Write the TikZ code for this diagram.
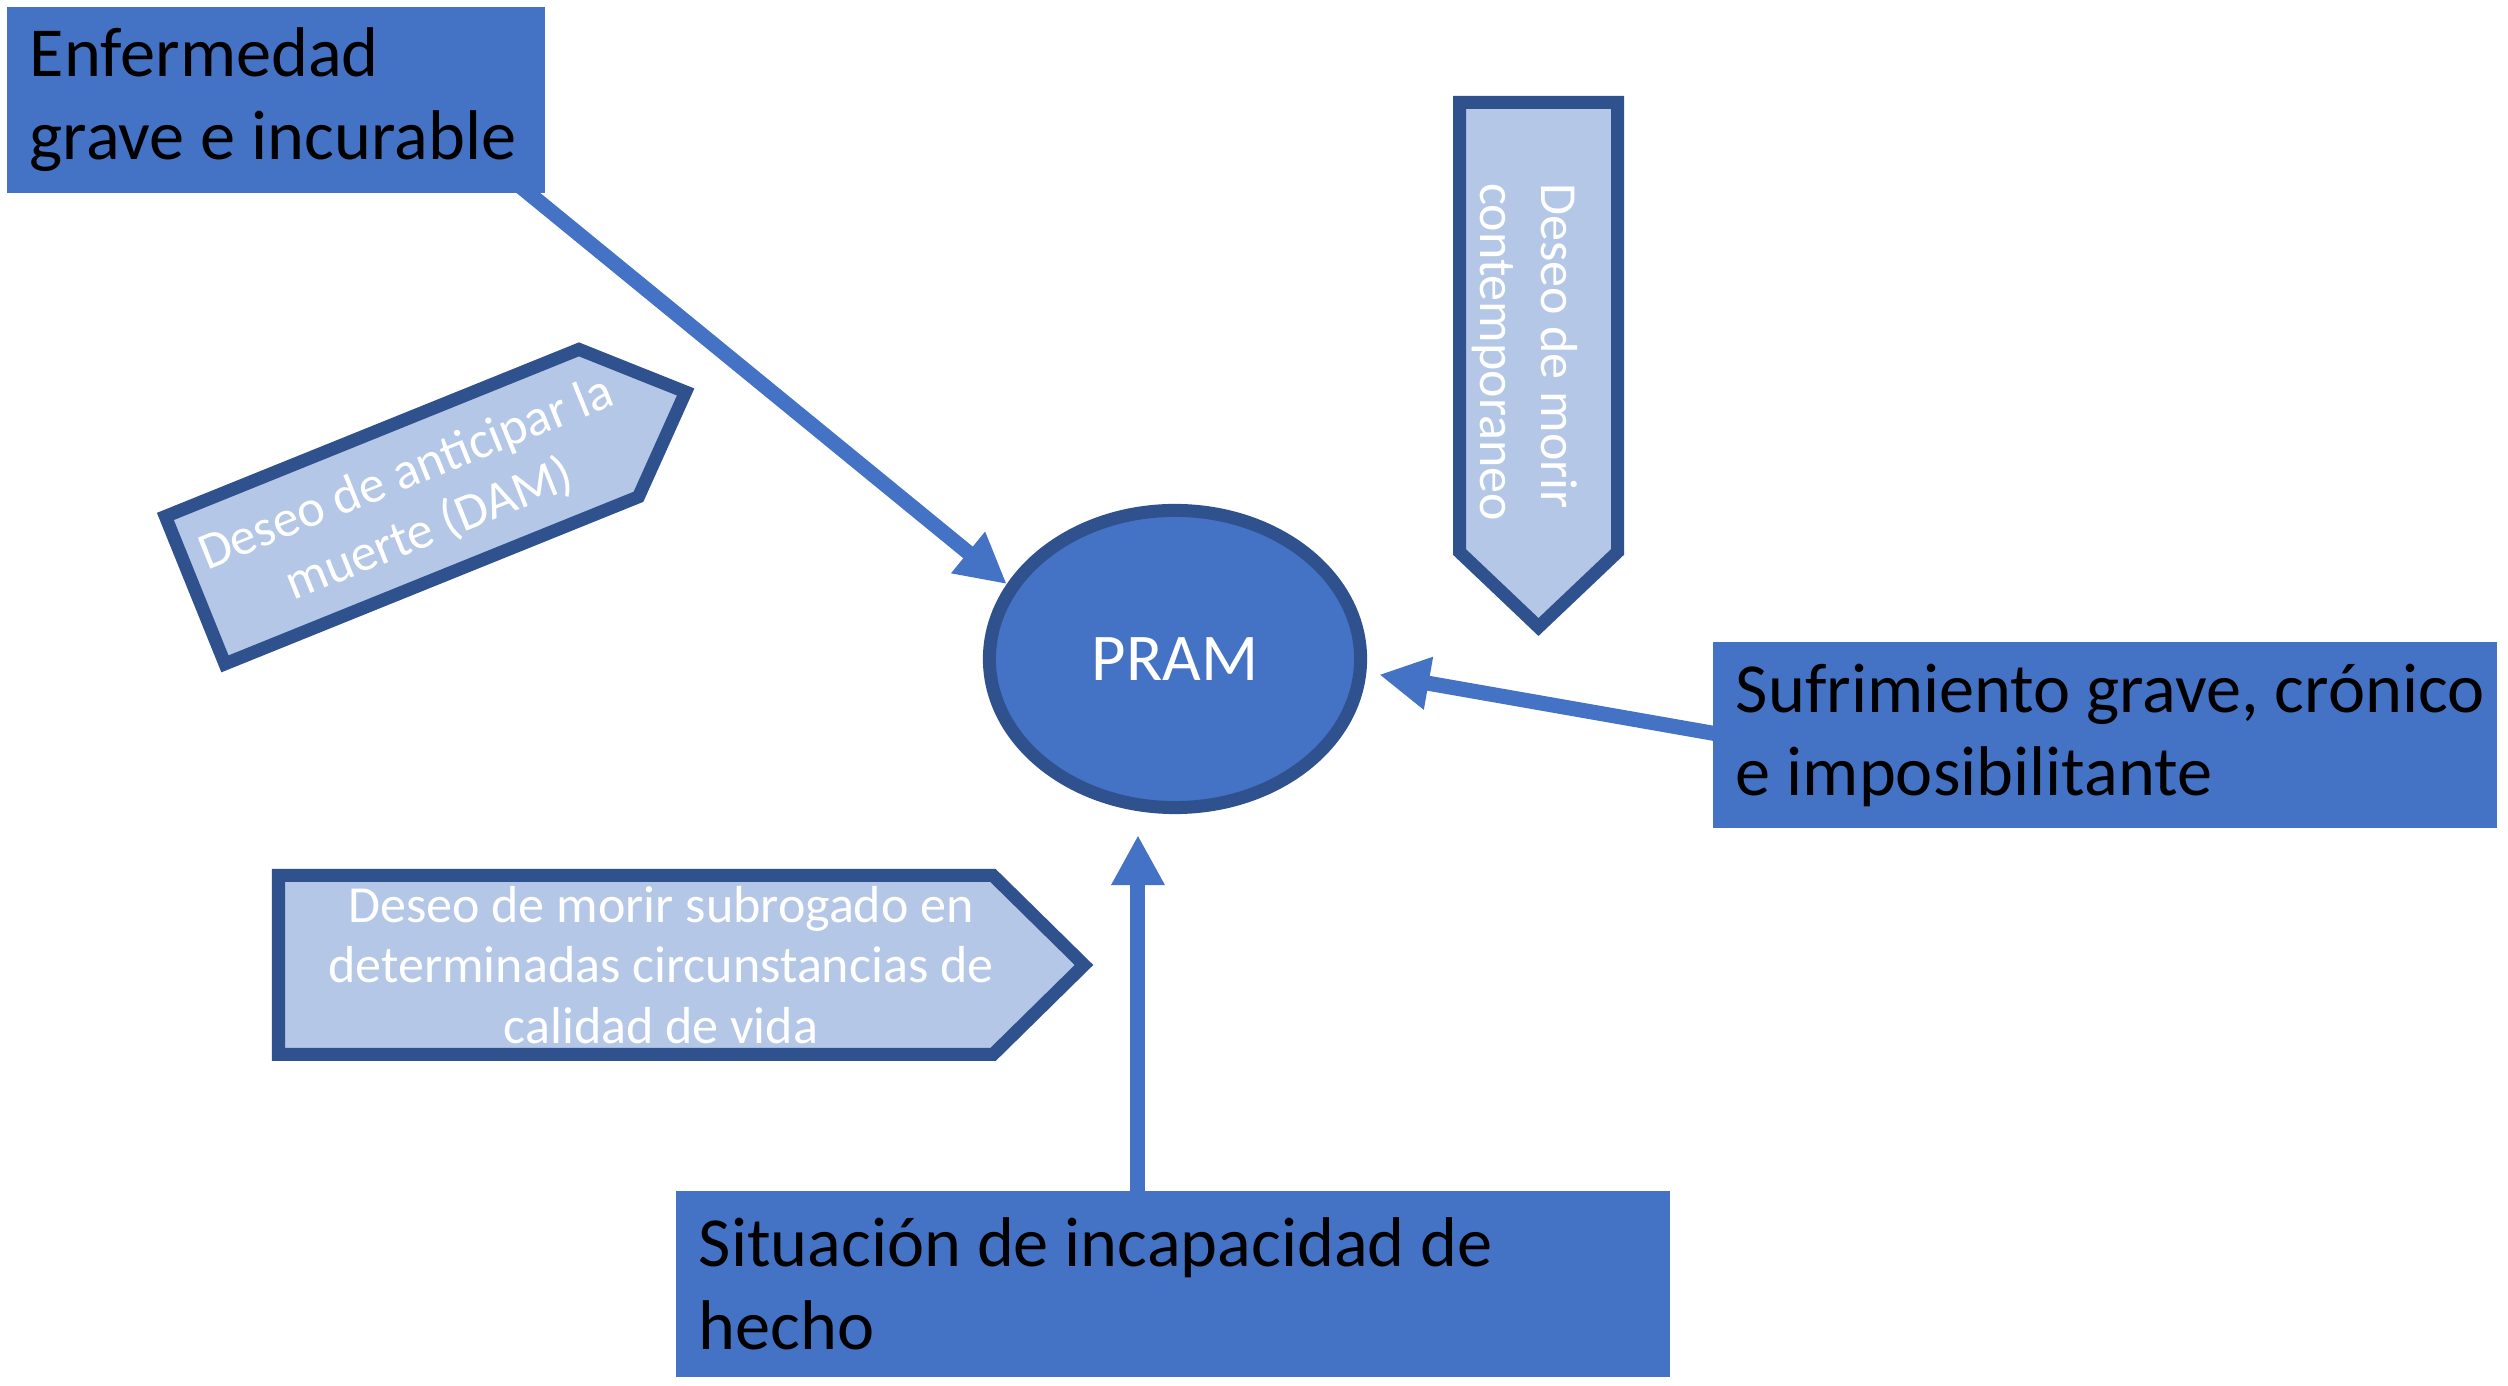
\documentclass[tikz,border=0pt]{standalone}
\usepackage{fontspec}
\setmainfont{Carlito}
\usetikzlibrary{arrows.meta,shapes.geometric}
\definecolor{mainblue}{HTML}{4472C4}
\definecolor{darkblue}{HTML}{2F528F}
\definecolor{lightblue}{HTML}{B4C7E7}
\pgfdeclarelayer{bg}
\pgfsetlayers{bg,main}
\begin{document}
\begin{tikzpicture}[x=0.01cm,y=-0.01cm,
  bigbox/.style={rectangle, fill=mainblue, draw=mainblue, minimum height=1.84cm,
    inner xsep=0.22cm, inner ysep=0pt, align=flush left,
    font=\fontsize{20pt}{23.6pt}\selectfont, text=black},
  lighttext/.style={text=white, align=flush center, inner sep=0pt,
    font=\fontsize{14.8pt}{17.3pt}\selectfont},
  lightshape/.style={fill=lightblue, draw=darkblue, line width=0.13cm, line join=miter},
  conn/.style={draw=mainblue, line width=0.15cm,
    -{Triangle[length=0.5cm,width=0.5cm]}}
]
\useasboundingbox (0,0) rectangle (2508,1386);

% light arrow shapes
\begin{scope}[shift={(401,507)}, rotate=22]
  \draw[lightshape] (-222,-79.5) -- (224,-79.5) -- (307,0) -- (224,79.5) -- (-222,79.5) -- cycle;
\end{scope}
\node[lighttext, rotate=22] (dam) at (418,502) {Deseo de anticipar la\\muerte (DAM)};

\draw[lightshape] (1459.5,102.5) -- (1617.5,102.5) -- (1617.5,552) -- (1538.5,627) -- (1459.5,552) -- cycle;
\node[lighttext, rotate=-90, align=flush left] (cont) at (1525,352) {Deseo de morir\\contemporaneo};

\draw[lightshape] (278.5,875.5) -- (993,875.5) -- (1084,965) -- (993,1054.5) -- (278.5,1054.5) -- cycle;
\node[lighttext] (sub) at (661,965) {Deseo de morir subrogado en\\determinadas circunstancias de\\calidad de vida};

% main boxes
\node[bigbox, text width=4.92cm] (enf) at (276,100) {\mbox{Enfermedad}\\\mbox{grave e incurable}};
\node[bigbox, text width=7.38cm] (suf) at (2105,735) {\mbox{Sufrimiento grave, crónico}\\\mbox{e imposibilitante}};
\node[bigbox, text width=9.48cm] (sit) at (1173,1284) {\mbox{Situación de incapacidad de}\\\mbox{hecho}};

\node[ellipse, fill=mainblue, draw=darkblue, line width=0.13cm,
  minimum width=3.71cm, minimum height=2.97cm, inner sep=0pt, text=white,
  font=\fontsize{19pt}{22pt}\selectfont] (pram) at (1175,659) {PRAM};

% connectors (behind the boxes)
\begin{pgfonlayer}{bg}
  \fill[white] (0,0) rectangle (2508,1386);
  \draw[conn] ([xshift=-0.29cm,yshift=0.1cm]enf.south east) -- (pram.156);
  \draw[conn, shorten >=0.13cm] ([xshift=0.1cm]suf.west) -- (pram.-4);
  \coordinate (s3) at ([xshift=-0.35cm,yshift=-0.1cm]sit.north);
  \draw[conn, shorten >=0.21cm] (s3) -- (s3 |- pram.south);
\end{pgfonlayer}
\end{tikzpicture}
\end{document}
